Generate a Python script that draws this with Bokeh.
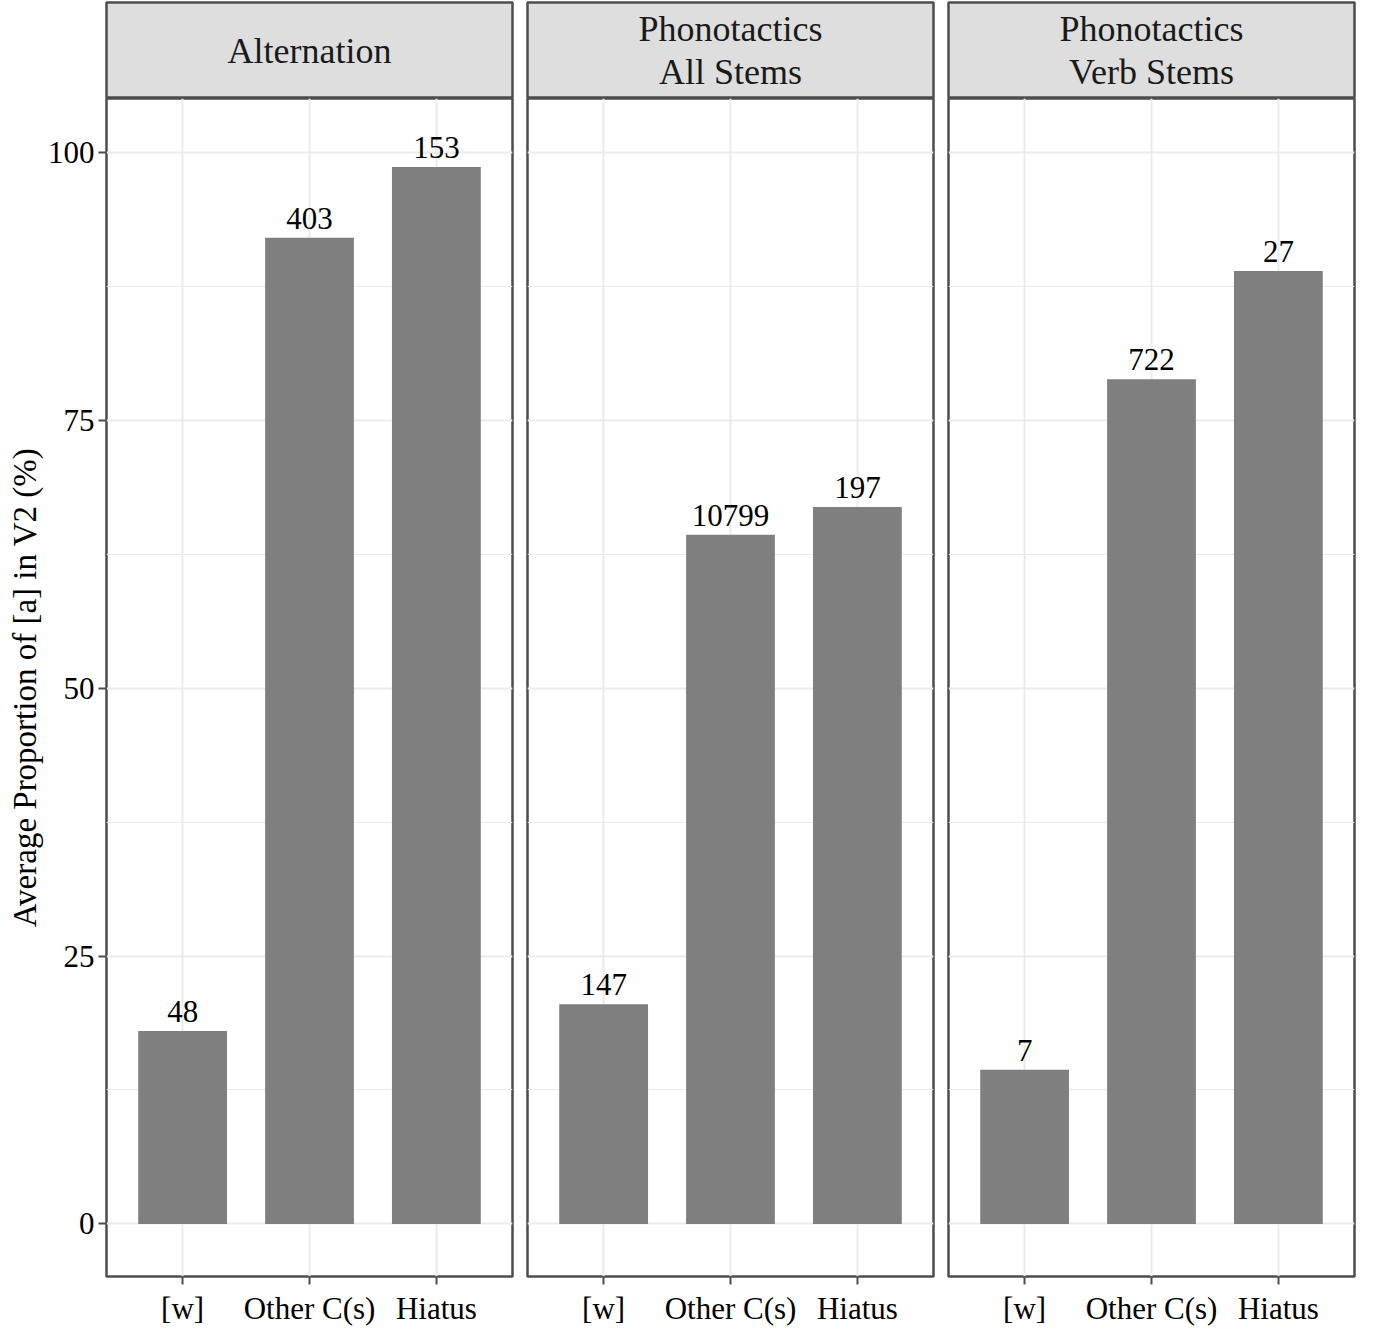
from bokeh.plotting import figure
from bokeh.models import Range1d, FixedTicker
from bokeh.layouts import row, column
from bokeh.core.properties import value
from bokeh.embed import file_html
from bokeh.resources import INLINE

# ---- data ----
categories = ["[w]", "Other C(s)", "Hiatus"]
facet_titles = [["Alternation"], ["Phonotactics", "All Stems"], ["Phonotactics", "Verb Stems"]]
alternation_vals = [18.0, 92.0, 98.6]
all_stems_vals = [20.5, 64.3, 66.9]
verb_stems_vals = [14.4, 78.8, 88.9]
alternation_n = ["48", "403", "153"]
all_stems_n = ["147", "10799", "197"]
verb_stems_n = ["7", "722", "27"]
y_ticks = [0, 25, 50, 75, 100]
y_minor = [12.5, 37.5, 62.5, 87.5]
y_title = "Average Proportion of [a] in V2 (%)"

series = [alternation_vals, all_stems_vals, verb_stems_vals]
counts = [alternation_n, all_stems_n, verb_stems_n]

FONT = "Liberation Serif"
BORDER = "#4d4d4d"
GRID = "#ebebeb"
BAR = "#7f7f7f"
STRIP = "#dedede"

FW = 406
LEFT0 = 106
GAP = 13

pos = [i + 1 for i in range(len(categories))]

cols = []
for k in range(3):
    left = LEFT0 if k == 0 else GAP
    right = 2

    strip = figure(frame_width=FW, frame_height=96, x_range=Range1d(0, 1), y_range=Range1d(0, 1),
                   output_backend="svg", toolbar_location=None,
                   min_border_left=left, min_border_right=right, min_border_top=2, min_border_bottom=0)
    strip.axis.visible = False
    strip.grid.visible = False
    strip.background_fill_color = STRIP
    strip.border_fill_color = "white"
    strip.outline_line_color = BORDER
    strip.outline_line_width = 2.5
    lines = facet_titles[k]
    n = len(lines)
    ys = [0.5 + ((n - 1) / 2 - i) * 0.45 for i in range(n)]
    strip.text(x=[0.5] * n, y=ys, text=lines, text_align="center", text_baseline="middle",
               text_font=value(FONT), text_font_size="36px", text_color="#1a1a1a")

    p = figure(frame_width=FW, frame_height=1178, x_range=Range1d(0.4, 3.6), y_range=Range1d(-4.9, 105),
               output_backend="svg", toolbar_location=None,
               min_border_left=left, min_border_right=right, min_border_top=0, min_border_bottom=0)
    p.border_fill_color = "white"
    p.background_fill_color = "white"
    p.outline_line_color = BORDER
    p.outline_line_width = 2.5

    p.vbar(x=pos, top=series[k], width=0.7, fill_color=BAR, line_color=None)
    p.text(x=pos, y=series[k], text=counts[k], text_align="center", text_baseline="bottom",
           y_offset=-9, text_font=value(FONT), text_font_size="31px", text_color="black")

    # x axis
    p.xaxis.ticker = FixedTicker(ticks=pos)
    p.xaxis.major_label_overrides = {pp: c for pp, c in zip(pos, categories)}
    p.xaxis.major_label_text_font = FONT
    p.xaxis.major_label_text_font_size = "31px"
    p.xaxis.major_label_text_color = "black"
    p.xaxis.major_label_standoff = 6
    p.xaxis.axis_line_color = None
    p.xaxis.major_tick_line_color = BORDER
    p.xaxis.major_tick_line_width = 2
    p.xaxis.major_tick_out = 8
    p.xaxis.major_tick_in = 0
    p.xaxis.minor_tick_line_color = None

    # y axis
    p.yaxis.ticker = FixedTicker(ticks=y_ticks, minor_ticks=y_minor)
    p.yaxis.major_label_text_font = FONT
    p.yaxis.major_label_text_font_size = "31px"
    p.yaxis.major_label_text_color = "black"
    p.yaxis.major_label_standoff = 4
    p.yaxis.axis_line_color = None
    p.yaxis.major_tick_line_color = BORDER
    p.yaxis.major_tick_line_width = 2
    p.yaxis.major_tick_out = 8
    p.yaxis.major_tick_in = 0
    p.yaxis.minor_tick_line_color = None
    if k == 0:
        p.yaxis.axis_label = y_title
        p.yaxis.axis_label_text_font = FONT
        p.yaxis.axis_label_text_font_size = "33px"
        p.yaxis.axis_label_text_font_style = "normal"
        p.yaxis.axis_label_text_color = "black"
        p.yaxis.axis_label_standoff = 2
    else:
        p.yaxis.visible = False

    # grids
    p.xgrid.ticker = FixedTicker(ticks=pos)
    p.ygrid.ticker = FixedTicker(ticks=y_ticks, minor_ticks=y_minor)
    p.xgrid.grid_line_color = GRID
    p.xgrid.grid_line_width = 2
    p.ygrid.grid_line_color = GRID
    p.ygrid.grid_line_width = 2
    p.ygrid.minor_grid_line_color = GRID
    p.ygrid.minor_grid_line_width = 1

    cols.append(column(strip, p, spacing=0))

layout = row(*cols, spacing=0)
open("out.html", "w").write(file_html(layout, INLINE))
